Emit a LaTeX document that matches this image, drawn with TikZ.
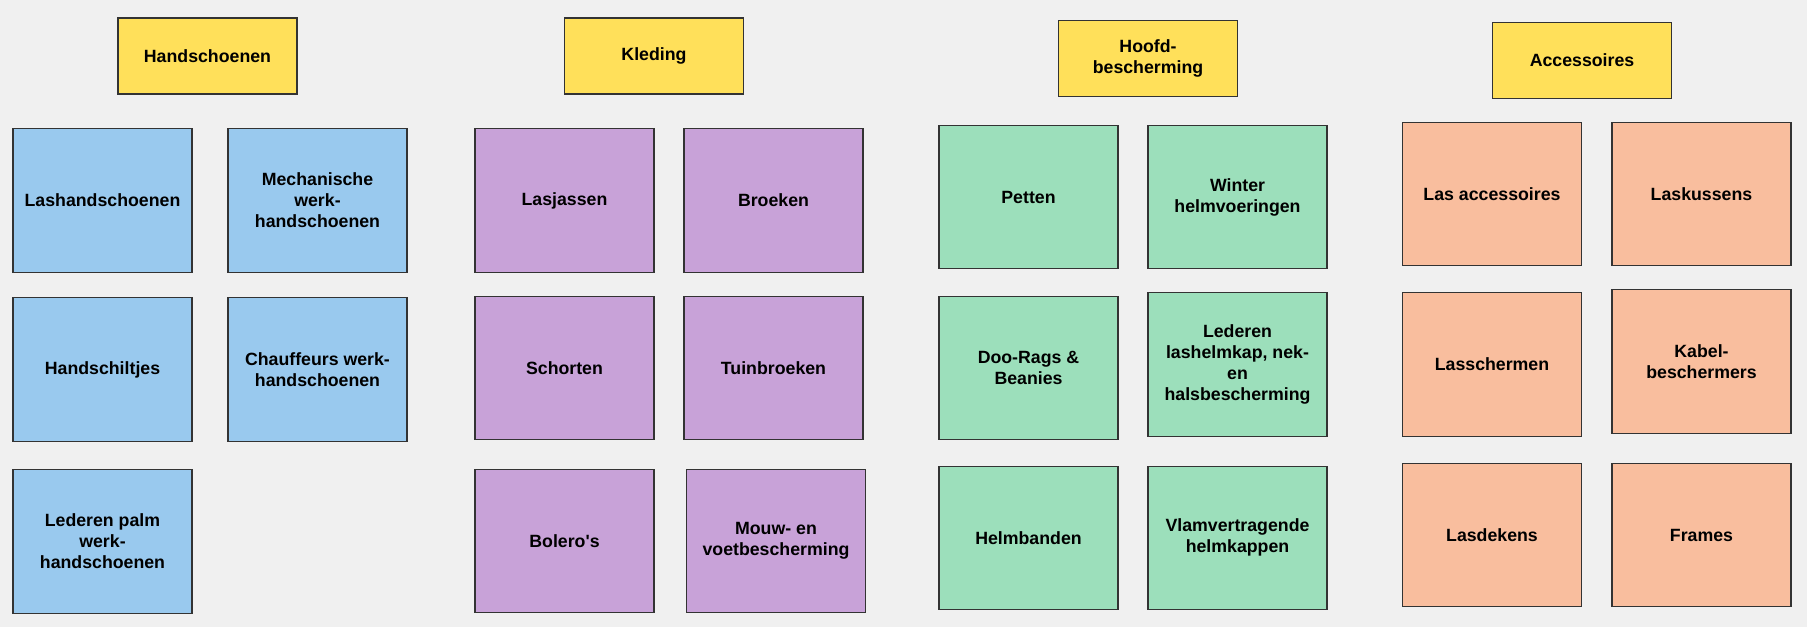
\documentclass[tikz,border=0pt]{standalone}
\usepackage{fontspec}
\setmainfont{Liberation Sans}
\usetikzlibrary{positioning}

\definecolor{bgcol}{RGB}{240,240,240}
\definecolor{hdrcol}{RGB}{255,224,90}
\definecolor{glovecol}{RGB}{153,201,238}
\definecolor{clothcol}{RGB}{200,162,216}
\definecolor{headcol}{RGB}{156,223,187}
\definecolor{acccol}{RGB}{249,190,158}
\definecolor{edgecol}{RGB}{51,51,51}

\begin{document}
\begin{tikzpicture}[x=0.75pt,y=-0.75pt,
	box/.style={draw=edgecol, line width=0.8pt, align=center, inner sep=2pt,
		font=\fontsize{13.3}{15.75}\selectfont\bfseries},
	hdr/.style={box, fill=hdrcol, minimum width=134.25pt, minimum height=57pt},
	item/.style={box, minimum width=134.25pt, minimum height=107.6pt},
	glove/.style={item, fill=glovecol},
	cloth/.style={item, fill=clothcol},
	helm/.style={item, fill=headcol},
	acc/.style={item, fill=acccol}]
\fill[bgcol] (0,0) rectangle (1807,627);
\useasboundingbox (0,0) rectangle (1807,627);

\node[hdr] (handschoenen) at (207.5,56) {Handschoenen};
\node[glove] (lashand) at (102.5,200.5) {Lashandschoenen};
\node[glove] (mechanisch) at (317.5,200.5) {Mechanische\\werk-\\handschoenen};
\node[glove] (handschild) at (102.5,369.6) {Handschiltjes};
\node[glove] (chauffeur) at (317.5,369.6) {Chauffeurs werk-\\handschoenen};
\node[glove] (lederpalm) at (102.5,541.6) {Lederen palm\\werk-\\handschoenen};

\node[hdr] (kleding) at (654,56) {Kleding};
\node[cloth] (lasjas) at (564.5,200.5) {Lasjassen};
\node[cloth] (broek) at (773.5,200.5) {Broeken};
\node[cloth] (schort) at (564.5,368.2) {Schorten};
\node[cloth] (tuinbroek) at (773.5,368.2) {Tuinbroeken};
\node[cloth] (bolero) at (564.5,541) {Bolero\textquotesingle s};
\node[cloth] (mouw) at (776,541) {Mouw- en\\voetbescherming};

\node[hdr] (hoofd) at (1148,58.6) {Hoofd-\\bescherming};
\node[helm] (pet) at (1028.5,197) {Petten};
\node[helm] (winter) at (1237.5,197) {Winter\\helmvoeringen};
\node[helm] (doorag) at (1028.5,368.2) {Doo-Rags \&\\Beanies};
\node[helm] (lashelm) at (1237.5,364.6) {Lederen\\lashelmkap, nek-\\en\\halsbescherming};
\node[helm] (helmband) at (1028.5,537.8) {Helmbanden};
\node[helm] (vlam) at (1237.5,537.8) {Vlamvertragende\\helmkappen};

\node[hdr] (accessoires) at (1582,60.6) {Accessoires};
\node[acc] (lasacc) at (1492,194.2) {Las accessoires};
\node[acc] (laskussen) at (1701.5,194.2) {Laskussens};
\node[acc] (lasscherm) at (1492,364.6) {Lasschermen};
\node[acc] (kabel) at (1701.5,361.6) {Kabel-\\beschermers};
\node[acc] (lasdeken) at (1492,535.2) {Lasdekens};
\node[acc] (frame) at (1701.5,535.2) {Frames};
\end{tikzpicture}
\end{document}
